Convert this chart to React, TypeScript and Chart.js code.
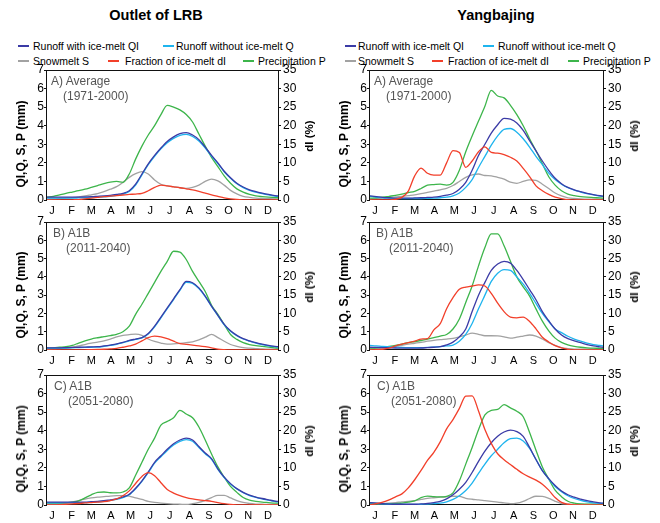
import React, { useEffect, useRef } from "react";
import { Chart, registerables } from "chart.js";
Chart.register(...registerables);

// ---------- data ----------
const days = [0,10,20,30,40,50,60,70,80,90,100,110,120,130,140,150,160,170,180,190,200,210,220,230,240,250,260,270,280,290,300,310,320,330,340,350,360,365];
const monthTicks = [8,39,70,101,132,163,194,225,256,287,318,349];
const monthLabels = ["J","F","M","A","M","J","J","A","S","O","N","D"];
const mmTicks = [0,1,2,3,4,5,6,7];
const pctTicks = [0,5,10,15,20,25,30,35];

// Outlet of LRB
const lrbA_P = [0.15,0.2,0.28,0.36,0.43,0.5,0.58,0.68,0.78,0.88, 0.96,1.0,0.95,1.4,2.2,2.9,3.5,4.0,4.6,5.1, 5.0,4.85,4.6,4.2,3.55,2.9,2.3,1.8,1.3,0.9, 0.6,0.42,0.3,0.22,0.18,0.15,0.13,0.12];
const lrbA_QI = [0.15,0.15,0.15,0.15,0.15,0.16,0.17,0.18,0.2,0.22, 0.25,0.3,0.36,0.5,0.85,1.4,1.95,2.4,2.8,3.15, 3.4,3.57,3.63,3.5,3.25,2.85,2.4,2.0,1.55,1.2, 0.9,0.7,0.55,0.45,0.37,0.3,0.24,0.22];
const lrbA_Q = [0.1,0.1,0.1,0.1,0.1,0.11,0.12,0.13,0.15,0.17, 0.2,0.25,0.32,0.46,0.8,1.35,1.9,2.35,2.75,3.08, 3.32,3.48,3.53,3.42,3.18,2.8,2.36,1.96,1.52,1.17, 0.87,0.67,0.52,0.42,0.34,0.27,0.21,0.19];
const lrbA_S = [0.05,0.06,0.08,0.1,0.13,0.17,0.22,0.28,0.34,0.45, 0.58,0.72,0.95,1.22,1.42,1.53,1.4,1.08,0.85,0.76, 0.72,0.66,0.63,0.68,0.8,1.0,1.12,1.03,0.8,0.52, 0.33,0.2,0.14,0.1,0.08,0.07,0.06,0.05];
const lrbA_dI = [0,0,0,0,0.05,0.1,0.3,0.5,0.7,0.9, 1.05,1.2,1.35,1.5,1.6,1.8,2.5,3.4,4.0,3.8, 3.55,3.3,3.0,2.7,2.3,1.85,1.4,1.0,0.6,0.33, 0.15,0.05,0,0,0,0,0,0];

const lrbB_P = [0.1,0.12,0.15,0.18,0.25,0.38,0.5,0.6,0.67,0.73, 0.79,0.86,1.0,1.3,1.95,2.5,3.1,3.7,4.3,4.85, 5.4,5.35,4.95,4.3,3.75,3.2,2.45,1.95,1.4,0.85, 0.58,0.4,0.3,0.24,0.2,0.16,0.12,0.1];
const lrbB_QI = [0.12,0.12,0.12,0.13,0.14,0.15,0.16,0.17,0.18,0.22, 0.27,0.33,0.42,0.52,0.6,0.68,0.9,1.3,1.8,2.3, 2.8,3.3,3.75,3.68,3.4,2.95,2.4,1.9,1.4,1.05, 0.8,0.62,0.5,0.4,0.32,0.25,0.2,0.18];
const lrbB_Q = [0.1,0.1,0.1,0.11,0.12,0.13,0.14,0.15,0.16,0.2, 0.25,0.31,0.4,0.5,0.58,0.66,0.88,1.27,1.76,2.26, 2.76,3.26,3.7,3.64,3.36,2.92,2.38,1.88,1.38,1.03, 0.78,0.6,0.48,0.38,0.3,0.23,0.18,0.16];
const lrbB_S = [0.05,0.06,0.08,0.1,0.15,0.22,0.3,0.37,0.43,0.5, 0.6,0.72,0.8,0.84,0.87,0.8,0.6,0.47,0.38,0.32, 0.33,0.36,0.4,0.45,0.55,0.7,0.85,0.68,0.48,0.3, 0.2,0.13,0.1,0.08,0.06,0.05,0.05,0.05];
const lrbB_dI = [0,0,0,0,0,0,0.05,0.1,0.15,0.2, 0.3,0.45,0.75,1.1,1.6,2.5,3.4,3.8,3.6,3.1, 2.4,1.75,1.55,1.36,1.15,0.9,0.6,0.25,0.1,0.02, 0,0,0,0,0,0,0,0];

const lrbC_P = [0.1,0.1,0.1,0.12,0.15,0.22,0.38,0.55,0.68,0.7, 0.66,0.65,0.7,0.92,1.6,2.3,3.0,3.6,4.3,4.5, 4.7,5.1,4.9,4.7,4.2,3.5,2.75,2.05,1.5,1.0, 0.68,0.4,0.26,0.2,0.16,0.13,0.1,0.1];
const lrbC_QI = [0.15,0.15,0.15,0.15,0.15,0.15,0.16,0.18,0.2,0.23, 0.28,0.33,0.43,0.58,0.9,1.3,1.78,2.3,2.65,3.0, 3.3,3.5,3.6,3.5,3.15,2.8,2.5,1.95,1.5,1.15, 0.88,0.68,0.53,0.43,0.35,0.28,0.21,0.19];
const lrbC_Q = [0.12,0.12,0.12,0.12,0.12,0.12,0.13,0.15,0.17,0.2, 0.25,0.3,0.4,0.55,0.87,1.27,1.74,2.25,2.6,2.94, 3.23,3.43,3.52,3.43,3.1,2.76,2.46,1.92,1.48,1.13, 0.86,0.66,0.51,0.41,0.33,0.26,0.19,0.17];
const lrbC_S = [0.05,0.05,0.06,0.1,0.15,0.24,0.32,0.38,0.42,0.45, 0.48,0.5,0.51,0.48,0.38,0.3,0.2,0.14,0.1,0.07, 0.05,0.04,0.03,0.07,0.14,0.25,0.4,0.52,0.52,0.38, 0.24,0.14,0.08,0.05,0.04,0.03,0.03,0.03];
const lrbC_dI = [0,0,0.1,0.2,0.3,0.4,0.55,0.65,0.75,0.9, 1.2,1.65,2.5,3.8,5.8,7.7,8.7,7.9,6.0,4.2, 3.2,2.5,2.0,1.65,1.4,1.2,1.0,0.65,0.35,0.15, 0.05,0,0,0,0,0,0,0];

// Yangbajing
const ybjA_P = [0.1,0.12,0.15,0.2,0.25,0.32,0.4,0.47,0.62,0.8, 0.83,0.85,0.8,0.95,1.6,2.6,3.45,4.25,5.05,5.9, 5.6,5.5,5.1,4.6,4.0,3.3,2.65,1.95,1.25,0.8, 0.5,0.32,0.23,0.18,0.15,0.13,0.11,0.1];
const ybjA_QI = [0.22,0.18,0.14,0.12,0.1,0.1,0.1,0.11,0.12,0.14, 0.16,0.2,0.26,0.35,0.58,0.95,1.6,2.4,3.0,3.6, 4.05,4.4,4.35,4.15,3.75,3.2,2.65,2.1,1.6,1.17, 0.88,0.68,0.55,0.45,0.36,0.29,0.23,0.21];
const ybjA_Q = [0.2,0.16,0.12,0.1,0.08,0.08,0.08,0.08,0.08,0.09, 0.1,0.12,0.15,0.22,0.38,0.68,1.1,1.75,2.35,2.95, 3.45,3.8,3.85,3.65,3.3,2.85,2.35,1.9,1.45,1.1, 0.85,0.66,0.53,0.43,0.34,0.27,0.21,0.19];
const ybjA_S = [0.05,0.07,0.1,0.13,0.17,0.2,0.24,0.28,0.34,0.41, 0.48,0.55,0.63,0.78,1.0,1.22,1.35,1.4,1.32,1.3, 1.22,1.12,0.96,0.9,1.0,1.08,1.06,0.85,0.62,0.38, 0.22,0.12,0.08,0.06,0.05,0.05,0.05,0.05];
const ybjA_dI = [0,0,0,0,0.2,0.7,2.4,6.5,8.6,7.2, 6.7,6.7,10.0,13.3,12.8,8.8,10.5,13.0,14.3,12.8, 12.6,12.2,11.5,10.5,8.5,6.3,3.8,2.5,1.5,0.8, 0.4,0.1,0,0,0,0,0,0];

const ybjB_P = [0.1,0.12,0.16,0.2,0.25,0.32,0.4,0.46,0.52,0.6, 0.68,0.76,0.85,1.15,1.7,2.6,3.5,4.6,5.6,6.35, 6.35,5.7,4.85,4.0,3.45,2.95,2.25,1.58,1.05,0.65, 0.42,0.28,0.2,0.15,0.12,0.1,0.09,0.08];
const ybjB_QI = [0.15,0.14,0.13,0.12,0.11,0.1,0.1,0.1,0.11,0.13, 0.15,0.18,0.28,0.43,0.72,1.15,2.1,3.0,3.7,4.35, 4.7,4.85,4.75,4.35,3.85,3.3,2.75,2.1,1.6,1.15, 0.82,0.62,0.5,0.4,0.3,0.22,0.17,0.15];
const ybjB_Q = [0.25,0.23,0.2,0.18,0.16,0.14,0.13,0.13,0.13,0.14, 0.16,0.18,0.22,0.27,0.48,0.85,1.45,2.25,3.0,3.75, 4.2,4.4,4.35,4.0,3.6,3.1,2.55,2.0,1.55,1.15, 0.95,0.75,0.6,0.48,0.38,0.3,0.25,0.23];
const ybjB_S = [0.05,0.07,0.1,0.15,0.2,0.26,0.32,0.37,0.42,0.48, 0.53,0.57,0.6,0.64,0.72,0.82,0.92,0.86,0.78,0.78, 0.77,0.72,0.65,0.7,0.76,0.82,0.76,0.6,0.4,0.25, 0.13,0.08,0.05,0.05,0.05,0.05,0.05,0.05];
const ybjB_dI = [0,0.1,0.2,0.5,1.1,1.6,2.0,2.4,3.0,3.1, 5.5,7.2,11.3,14.3,16.6,17.2,17.5,17.8,17.5,15.5, 12.8,10.5,9.0,8.8,9.0,7.8,5.8,3.5,2.2,1.2, 0.6,0.2,0,0,0,0,0,0];

const ybjC_P = [0.08,0.08,0.07,0.07,0.07,0.1,0.15,0.22,0.4,0.48, 0.45,0.44,0.47,0.65,1.3,2.2,3.1,4.05,4.85,5.1, 5.15,5.4,5.23,5.05,4.75,3.9,2.95,2.05,1.4,0.8, 0.45,0.2,0.1,0.06,0.05,0.04,0.04,0.04];
const ybjC_QI = [0.13,0.1,0.07,0.05,0.04,0.04,0.04,0.04,0.06,0.08, 0.13,0.2,0.33,0.55,0.85,1.22,1.75,2.35,2.9,3.35, 3.7,3.93,4.03,3.95,3.7,3.1,2.45,1.85,1.42,1.05, 0.75,0.55,0.42,0.32,0.23,0.17,0.12,0.1];
const ybjC_Q = [0.12,0.09,0.06,0.04,0.03,0.03,0.03,0.03,0.04,0.05, 0.07,0.1,0.17,0.3,0.5,0.78,1.18,1.7,2.2,2.65, 3.0,3.35,3.57,3.6,3.45,3.05,2.45,1.85,1.4,1.0, 0.72,0.5,0.35,0.25,0.17,0.12,0.09,0.08];
const ybjC_S = [0.05,0.06,0.08,0.1,0.13,0.17,0.2,0.24,0.3,0.36, 0.39,0.42,0.44,0.47,0.46,0.36,0.31,0.28,0.24,0.2, 0.16,0.11,0.07,0.1,0.2,0.35,0.47,0.46,0.36,0.2, 0.08,0.05,0.03,0.03,0.03,0.03,0.03,0.03];
const ybjC_dI = [0,0.4,0.8,1.4,2.2,3.0,4.6,6.8,9.3,12.0, 14.2,17.0,20.5,23.0,26.0,29.3,29.4,25.3,20.3,16.6, 13.8,12.2,10.9,9.6,8.4,7.5,6.7,5.6,4.0,2.0, 0.7,0.2,0,0,0,0,0,0];

const siteTitles = ["Outlet of LRB", "Yangbajing"];
const panelNames = ["A) Average", "B) A1B", "C) A1B"];
const panelPeriods = ["(1971-2000)", "(2011-2040)", "(2051-2080)"];
const leftAxisTitle = "QI,Q, S, P (mm)";
const rightAxisTitle = "dI (%)";
const seriesNames = {
  qi: "Runoff with ice-melt QI",
  q: "Runoff without ice-melt Q",
  s: "Snowmelt S",
  dI: "Fraction of ice-melt dI",
  p: "Precipitation P",
};

// ---------- styling ----------
const FONT = "'Liberation Sans', Arial, Helvetica, sans-serif";
const COLORS = { qi: "#3b3ba6", q: "#1eb4ee", s: "#a2a2a2", dI: "#f23f2a", p: "#3db54b" };

const cols = [
  { canvasLeft: 0, leftW: 47, rightW: 52, width: 330 },
  { canvasLeft: 330, leftW: 40, rightW: 57, width: 330 },
];
const rows = [
  { top: 60, h: 160, xH: 20, label: [4, 16], labelY: [81, 96] },
  { top: 212, h: 158, xH: 20, label: [6, 19], labelY: [233, 248] },
  { top: 365, h: 158, xH: 18, label: [7, 21], labelY: [386, 401] },
];

const panelData = [
  [
    { qi: lrbA_QI, q: lrbA_Q, s: lrbA_S, dI: lrbA_dI, p: lrbA_P },
    { qi: lrbB_QI, q: lrbB_Q, s: lrbB_S, dI: lrbB_dI, p: lrbB_P },
    { qi: lrbC_QI, q: lrbC_Q, s: lrbC_S, dI: lrbC_dI, p: lrbC_P },
  ],
  [
    { qi: ybjA_QI, q: ybjA_Q, s: ybjA_S, dI: ybjA_dI, p: ybjA_P },
    { qi: ybjB_QI, q: ybjB_Q, s: ybjB_S, dI: ybjB_dI, p: ybjB_P },
    { qi: ybjC_QI, q: ybjC_Q, s: ybjC_S, dI: ybjC_dI, p: ybjC_P },
  ],
];

const boxPlugin = {
  id: "box",
  beforeDatasetsDraw(chart: any) {
    const { ctx, chartArea: a } = chart;
    ctx.save();
    ctx.strokeStyle = "#111";
    ctx.lineWidth = 1;
    ctx.strokeRect(Math.round(a.left) - 0.5, Math.round(a.top) + 0.5, Math.round(a.right - a.left) + 1, Math.round(a.bottom - a.top) - 1);
    ctx.restore();
  },
};

function mk(arr: number[], color: string, axis: string) {
  return {
    data: days.map((d, i) => ({ x: d, y: arr[i] })),
    borderColor: color,
    backgroundColor: color,
    borderWidth: 1.3,
    pointRadius: 0,
    cubicInterpolationMode: "monotone" as const,
    yAxisID: axis,
    fill: false,
  };
}

function Panel({ col, row, series }: any) {
  const ref = useRef<HTMLCanvasElement | null>(null);
  const c = cols[col];
  const r = rows[row];
  useEffect(() => {
    if (!ref.current) return;
    const tickFont = { family: FONT, size: 12 };
    const chart = new Chart(ref.current, {
      type: "line",
      data: {
        datasets: [
          mk(series.dI, COLORS.dI, "y1"),
          mk(series.qi, COLORS.qi, "y"),
          mk(series.q, COLORS.q, "y"),
          mk(series.p, COLORS.p, "y"),
          mk(series.s, COLORS.s, "y"),
        ],
      },
      options: {
        animation: false,
        responsive: false,
        maintainAspectRatio: false,
        events: [],
        layout: { padding: { top: 10, left: 0, right: 0, bottom: 0 } },
        plugins: { legend: { display: false }, tooltip: { enabled: false }, title: { display: false } },
        scales: {
          x: {
            type: "linear",
            min: 0,
            max: 365,
            afterBuildTicks: (s: any) => { s.ticks = monthTicks.map((v) => ({ value: v })); },
            afterFit: (s: any) => { s.height = r.xH; },
            ticks: {
              autoSkip: false,
              maxRotation: 0,
              padding: 4,
              color: "#000",
              font: { family: FONT, size: 11 },
              callback: (_v: any, i: number) => monthLabels[i],
            },
            grid: { display: false, drawTicks: false, tickLength: 0 },
            border: { display: false },
          },
          y: {
            position: "left",
            min: 0,
            max: 7,
            afterBuildTicks: (s: any) => { s.ticks = mmTicks.map((v) => ({ value: v })); },
            afterFit: (s: any) => { s.width = c.leftW; },
            ticks: { padding: 0, color: "#000", font: tickFont },
            grid: { drawOnChartArea: false, drawTicks: true, tickLength: 3, color: "#111" },
            border: { display: false },
          },
          y1: {
            position: "right",
            min: 0,
            max: 35,
            afterBuildTicks: (s: any) => { s.ticks = pctTicks.map((v) => ({ value: v })); },
            afterFit: (s: any) => { s.width = c.rightW; },
            ticks: { padding: 2, color: "#000", font: tickFont },
            grid: { drawOnChartArea: false, drawTicks: true, tickLength: 3, color: "#111" },
            border: { display: false },
          },
        },
      } as any,
      plugins: [boxPlugin],
    });
    return () => chart.destroy();
  }, []);
  return (
    <canvas
      ref={ref}
      width={c.width}
      height={r.h}
      style={{ position: "absolute", left: c.canvasLeft, top: r.top, width: c.width, height: r.h }}
    />
  );
}

function Legend({ col }: { col: number }) {
  const items =
    col === 0
      ? [
          { k: "qi", lx: 18, tx: 33, y: 46 },
          { k: "q", lx: 163, tx: 176, y: 46 },
          { k: "s", lx: 18, tx: 33, y: 61 },
          { k: "dI", lx: 108, tx: 125, y: 61 },
          { k: "p", lx: 243, tx: 258, y: 61 },
        ]
      : [
          { k: "qi", lx: 345, tx: 358, y: 46 },
          { k: "q", lx: 483, tx: 498, y: 46 },
          { k: "s", lx: 345, tx: 358, y: 61 },
          { k: "dI", lx: 432, tx: 448, y: 61 },
          { k: "p", lx: 568, tx: 583, y: 61 },
        ];
  return (
    <>
      {items.map((it) => (
        <React.Fragment key={it.k}>
          <div style={{ position: "absolute", left: it.lx, top: it.y - 1, width: 11, height: 2, background: (COLORS as any)[it.k] }} />
          <div style={{ position: "absolute", left: it.tx, top: it.y - 7, height: 14, lineHeight: "14px", fontSize: 10.5, whiteSpace: "nowrap", color: "#000" }}>
            {(seriesNames as any)[it.k]}
          </div>
        </React.Fragment>
      ))}
    </>
  );
}

export default function App() {
  const titleCenters = [156, 496];
  return (
    <div style={{ position: "absolute", left: 0, top: 0, width: 660, height: 523, overflow: "hidden", background: "#fff", fontFamily: FONT }}>
      {siteTitles.map((t, i) => (
        <div key={t} style={{ position: "absolute", left: titleCenters[i] - 100, width: 200, top: 6, height: 18, lineHeight: "18px", textAlign: "center", fontWeight: "bold", fontSize: 14.5, color: "#000" }}>
          {t}
        </div>
      ))}
      <Legend col={0} />
      <Legend col={1} />
      {cols.map((c, ci) =>
        rows.map((r, ri) => {
          const areaLeft = c.canvasLeft + c.leftW;
          const areaRight = c.canvasLeft + c.width - c.rightW;
          const areaTop = r.top + 10;
          const areaBottom = r.top + r.h - r.xH;
          const mid = (areaTop + areaBottom) / 2;
          return (
            <React.Fragment key={ci + "-" + ri}>
              <Panel col={ci} row={ri} series={panelData[ci][ri]} />
              <div style={{ position: "absolute", left: areaLeft + r.label[0], top: r.labelY[0] - 8, height: 16, lineHeight: "16px", fontSize: 12, color: "#555", whiteSpace: "nowrap" }}>
                {panelNames[ri]}
              </div>
              <div style={{ position: "absolute", left: areaLeft + r.label[1], top: r.labelY[1] - 8, height: 16, lineHeight: "16px", fontSize: 12, color: "#555", whiteSpace: "nowrap" }}>
                {panelPeriods[ri]}
              </div>
              <div style={{ position: "absolute", left: areaLeft - 26, top: mid + 9, transform: "translate(-50%,-50%) rotate(-90deg)", fontWeight: "bold", fontSize: 12, whiteSpace: "nowrap", color: "#000", lineHeight: "14px" }}>
                {leftAxisTitle}
              </div>
              <div style={{ position: "absolute", left: areaRight + 31, top: mid + 1, transform: "translate(-50%,-50%) rotate(-90deg)", fontWeight: "bold", fontSize: 11.5, whiteSpace: "nowrap", color: "#000", lineHeight: "14px" }}>
                {rightAxisTitle}
              </div>
            </React.Fragment>
          );
        })
      )}
    </div>
  );
}
